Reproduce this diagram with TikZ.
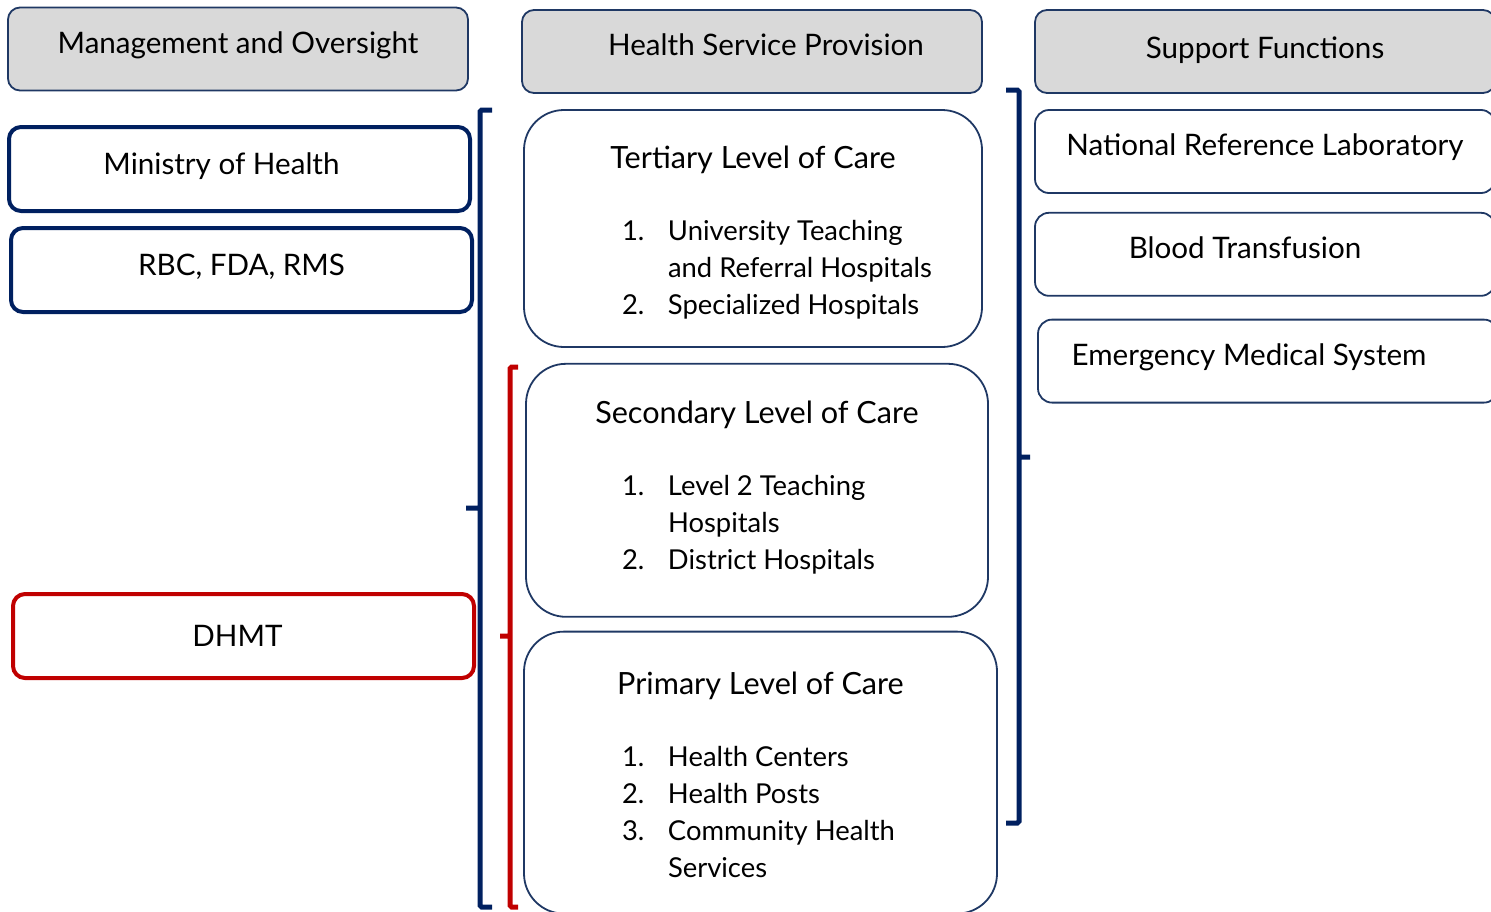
\documentclass[tikz,border=0pt]{standalone}
\usepackage{fontspec}
\setmainfont{Lato}
\usetikzlibrary{positioning}

\definecolor{navy}{HTML}{002060}
\definecolor{navyline}{HTML}{1F3864}
\definecolor{redline}{HTML}{C00000}
\definecolor{headgray}{HTML}{D9D9D9}

% title of a level-of-care box, #1 = height of the strut above it
\newcommand{\leveltitle}[2]{{\fontsize{15.3}{18.5}\selectfont\rule{0pt}{#1}#2}}
% numbered list inside a level-of-care box, #1 = width it is centred on
\newcommand{\carelist}[2]{\makebox[#1][l]{\fontsize{13.7}{18.5}\selectfont\begin{tabular}[t]{@{}p{23pt}@{}l@{}}#2\end{tabular}}}

\begin{document}
\begin{tikzpicture}[x=0.5pt, y=-0.5pt,
    font=\fontsize{14.8}{18.5}\selectfont,
    header/.style={rectangle, rounded corners=6pt, draw=navyline, line width=0.9pt, fill=headgray, minimum width=230pt, minimum height=41.5pt, text depth=6.5pt},
    govbox/.style={rectangle, rounded corners=6pt, draw=navy, line width=2pt, minimum width=230.5pt, minimum height=42pt, text depth=5.5pt},
    redbox/.style={govbox, draw=redline},
    levelbox/.style={rectangle, rounded corners=20pt, draw=navyline, line width=0.9pt, align=center},
    supbox/.style={rectangle, rounded corners=7pt, draw=navyline, line width=0.9pt, minimum width=230pt, minimum height=41.5pt, text depth=7pt},
    bracket/.style={draw=navy, line width=2.5pt, rounded corners=0.8pt}
]
\useasboundingbox (0,0) rectangle (1491,911);

% column headers
\node[header] (mgmt) at (238,49) {Management and Oversight};
\node[header] (hsp) at (752,51.5) {\kern14pt Health Service Provision};
\node[header, text depth=4pt] (supp) at (1265,51.5) {Support Functions};

% management and oversight
\node[govbox] (moh) at (239.5,169) {Ministry of Health\kern18pt};
\node[govbox, below=6.5pt of moh, xshift=1pt] (rbc) {RBC, FDA, RMS};
\node[redbox, text depth=0pt] (dhmt) at (243.5,636) {DHMT\kern6pt};

% levels of care
\node[levelbox, minimum width=229pt, minimum height=118.5pt] (tert) at (753,228.5)
    {\leveltitle{19pt}{Tertiary Level of Care}\\[17.5pt]\carelist{131pt}{1. & University Teaching\\ & and Referral Hospitals\\ 2. & Specialized Hospitals}};
\node[levelbox, minimum width=231pt, minimum height=126.5pt, below=7.5pt of tert, xshift=2pt] (sec)
    {\leveltitle{12pt}{Secondary Level of Care}\\[17.5pt]\carelist{135pt}{1. & Level 2 Teaching\\ & Hospitals\\ 2. & District Hospitals}};
\node[levelbox, minimum width=236.5pt, minimum height=141pt, below=6.5pt of sec, xshift=1.75pt] (prim)
    {\leveltitle{19pt}{Primary Level of Care}\\[17.5pt]\carelist{138.5pt}{1. & Health Centers\\ 2. & Health Posts\\ 3. & Community Health\\ & Services}};

% support functions
\node[supbox] (nrl) at (1265,151.5) {National Reference Laboratory};
\node[supbox, below=9pt of nrl] (blood) {Blood Transfusion\kern20pt};
\node[supbox, below=11pt of blood, xshift=1.5pt] (ems) {Emergency Medical System\kern19pt};

% brackets
\draw[bracket] (492,110) -- (480,110) -- (480,907) -- (492,907) (480,508) -- (466,508);
\draw[bracket, draw=redline] (518,367) -- (510,367) -- (510,907) -- (518,907) (510,636) -- (500,636);
\draw[bracket] (1006,90) -- (1019,90) -- (1019,823) -- (1006,823) (1019,457) -- (1030,457);

\end{tikzpicture}
\end{document}
